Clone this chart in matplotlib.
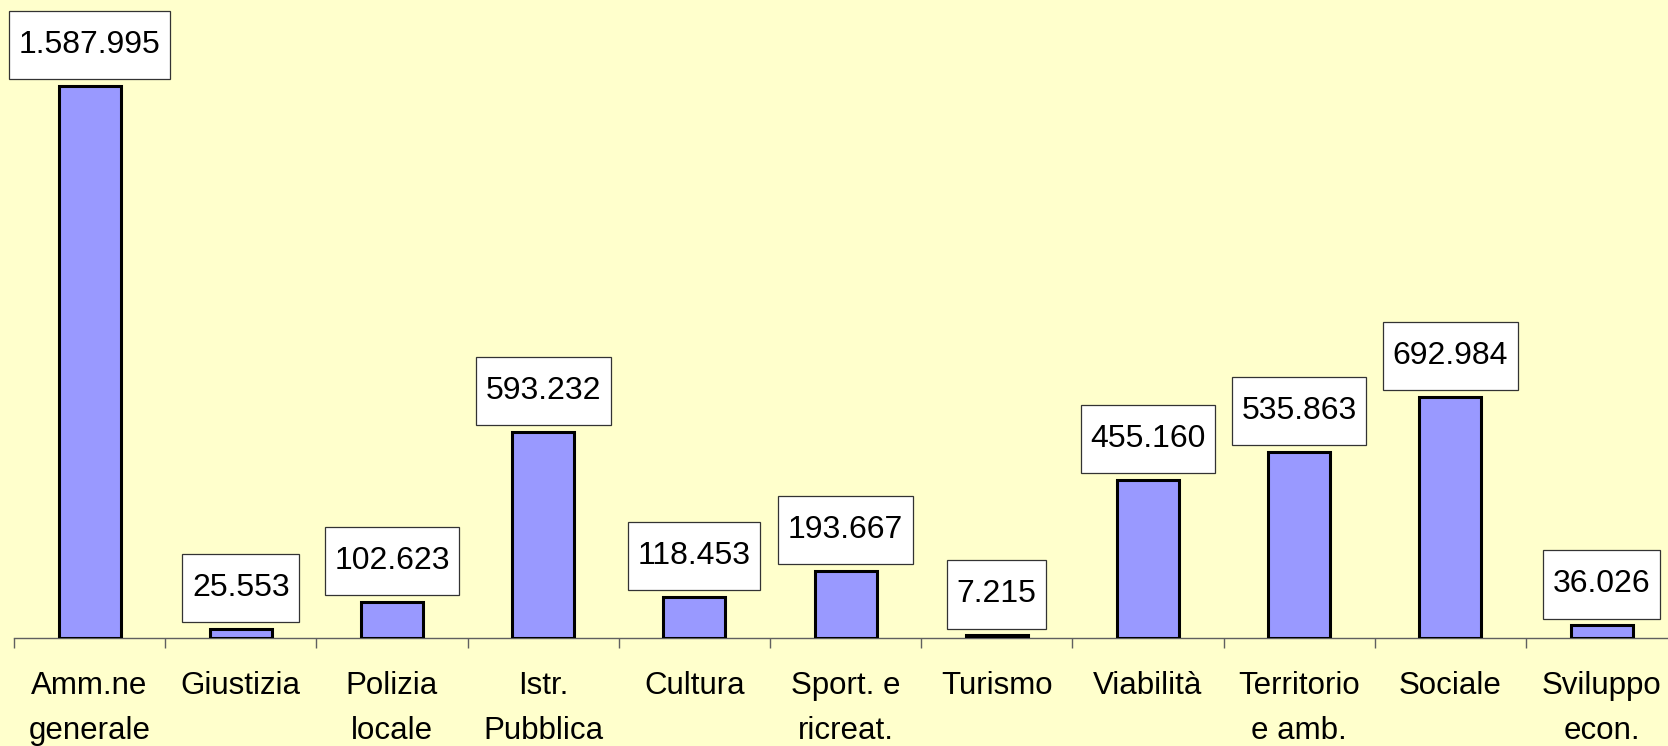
import matplotlib.pyplot as plt
import numpy as np
from matplotlib.path import Path

plt.rcParams['font.family'] = ['Liberation Sans', 'DejaVu Sans']

categories = ['Amm.ne\ngenerale', 'Giustizia', 'Polizia\nlocale', 'Istr.\nPubblica',
              'Cultura', 'Sport. e\nricreat.', 'Turismo', 'Viabilità',
              'Territorio\ne amb.', 'Sociale', 'Sviluppo\necon.']
values = [1587995, 25553, 102623, 593232, 118453, 193667, 7215,
          455160, 535863, 692984, 36026]
value_labels = ['1.587.995', '25.553', '102.623', '593.232', '118.453', '193.667',
                '7.215', '455.160', '535.863', '692.984', '36.026']

BG = '#FFFFCC'
BAR = '#9999FF'
AXIS = '#606060'


def label_box(x0, y0, width, height, mutation_size):
    # box a bit taller than wide padding, like the old office charts
    hp = 0.3 * mutation_size
    vp = 0.6 * mutation_size
    x0, y0 = x0 - hp, y0 - vp
    x1, y1 = x0 + width + 2 * hp, y0 + height + 2 * vp
    return Path([(x0, y0), (x1, y0), (x1, y1), (x0, y1), (x0, y0)], closed=True)


W, H = 1668, 746
fig = plt.figure(figsize=(W / 100, H / 100), dpi=100, facecolor=BG)
# axis line at y=638 px from top, starts at x=14 px, each category ~151.2 px wide
ax = fig.add_axes([14 / W, (H - 638) / H, 11 * 151.2 / W, 638 / H])
ax.set_facecolor(BG)

x = np.arange(len(categories))
ax.bar(x, values, width=0.41, color=BAR, edgecolor='black', linewidth=2.2, zorder=3)

ax.set_xlim(-0.5, len(categories) - 0.5)
ax.set_ylim(0, 1587995 * 638 / 552)

for xi, v, lab in zip(x, values, value_labels):
    ax.annotate(lab, (xi, v), xytext=(0, 41), textcoords='offset pixels',
                ha='center', va='center', fontsize=23, color='black',
                bbox=dict(boxstyle=label_box, facecolor='white',
                          edgecolor='#333333', linewidth=0.9), zorder=4)

for s in ['top', 'left', 'right']:
    ax.spines[s].set_visible(False)
ax.spines['bottom'].set_color(AXIS)
ax.spines['bottom'].set_linewidth(1.0)

ax.set_yticks([])
ax.set_xticks(x)
ax.set_xticklabels(categories, fontsize=22.5, linespacing=1.62)
ax.tick_params(axis='x', which='major', length=0, pad=24)
ax.set_xticks(np.arange(len(categories) + 1) - 0.5, minor=True)
ax.tick_params(axis='x', which='minor', length=7, color=AXIS, width=1.0)

fig.savefig('out.png', dpi=100, facecolor=BG)
